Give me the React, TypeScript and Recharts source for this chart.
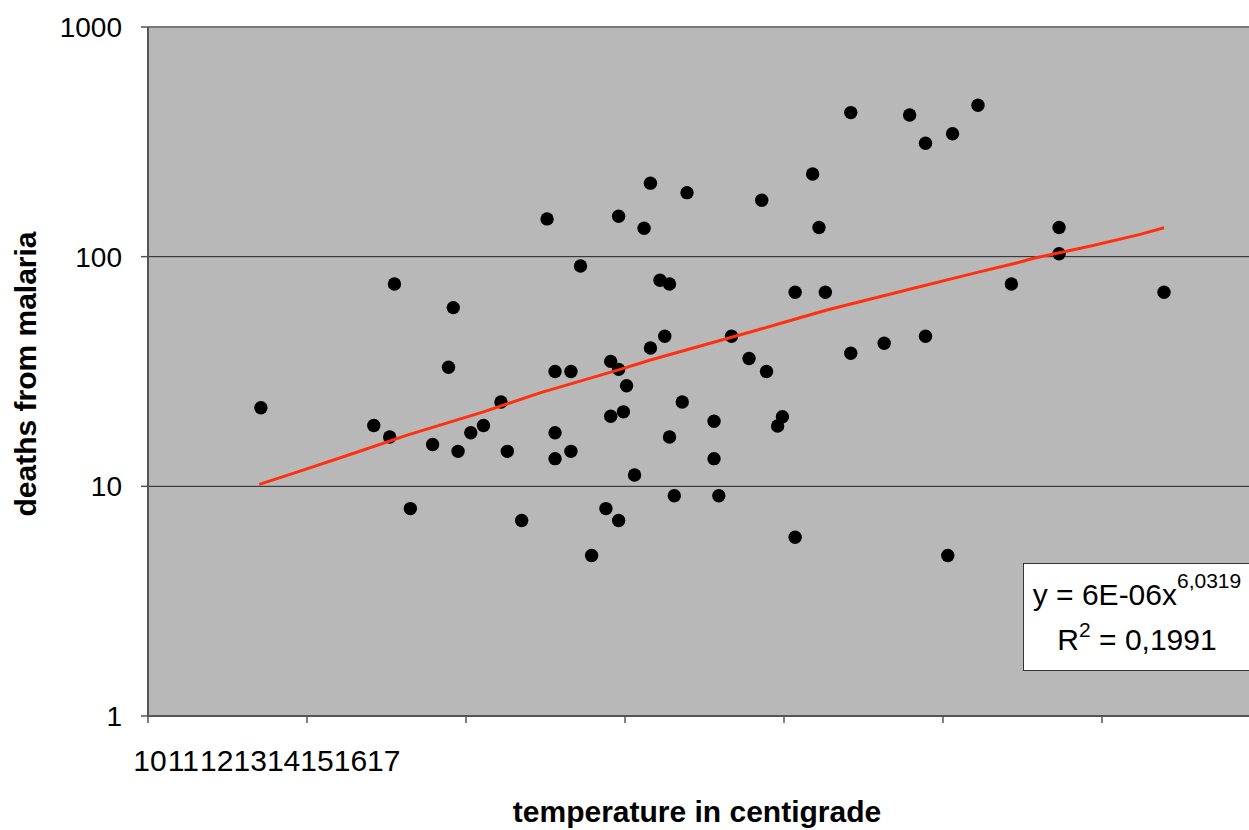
import { ScatterChart, Scatter, XAxis, YAxis, CartesianGrid, ReferenceLine } from "recharts"

// temperature (°C) and deaths per point
const temperature = [
  10.71, 11.42, 11.52, 11.55, 11.65, 11.79, 11.89, 11.92, 11.95, 12.03,
  12.11, 12.22, 12.26, 12.35, 12.51, 12.56, 12.56, 12.56, 12.66, 12.66,
  12.72, 12.79, 12.88, 12.91, 12.91, 12.96, 12.96, 12.96, 12.99, 13.01,
  13.06, 13.12, 13.16, 13.16, 13.22, 13.25, 13.28, 13.28, 13.31, 13.36,
  13.39, 13.56, 13.56, 13.59, 13.67, 13.78, 13.86, 13.89, 13.96, 13.99,
  14.07, 14.07, 14.18, 14.22, 14.26, 14.42, 14.42, 14.63, 14.79, 14.89,
  14.89, 15.03, 15.06, 15.22, 15.43, 15.73, 15.73, 16.39,
]
const deaths = [
  22, 18.4, 16.4, 76, 8, 15.2, 33, 60, 14.2, 17.1,
  18.4, 23.3, 14.2, 7.1, 146, 31.6, 17.1, 13.2, 31.6, 14.2,
  91, 5, 8, 35, 20.2, 150, 7.1, 32.3, 21.1, 27.4,
  11.2, 133, 209, 40, 79, 45, 76, 16.4, 9.1, 23.3,
  190, 19.2, 13.2, 9.1, 45, 36, 176, 31.6, 18.3, 20.1,
  6, 70, 229, 134, 70, 424, 38, 42, 414, 312,
  45, 5, 343, 456, 76, 134, 103, 70,
]

// power trendline, points
const trendTemperature = [
  10.7, 10.98, 11.29, 11.63, 12.11, 12.47, 12.97, 13.16, 13.85, 13.98,
  14.27, 14.79, 15.21, 15.48, 15.57, 15.93, 16.24, 16.39,
]
const trendDeaths = [
  10.2, 11.8, 13.9, 16.7, 21.1, 25.6, 32.3, 35.5, 48.3, 51.3,
  58.6, 72.1, 85.2, 94.5, 98.4, 111.3, 125, 133.6,
]

const xTicks = [10, 11, 12, 13, 14, 15, 16, 17]
const yTicks = [1, 10, 100, 1000]

const points = temperature.map((t, i) => ({ t, d: deaths[i] }))
const trend = trendTemperature.map((t, i) => ({ t, d: trendDeaths[i] }))

const FONT = '"Liberation Sans", Arial, sans-serif'

// Excel squashed the category labels together at the left, so do the same
function XTick(props: any) {
  const { payload, index } = props
  return (
    <text x={150 + 33.4 * index} y={771} textAnchor="middle" fontSize={30} fontFamily={FONT} fill="#000">
      {payload.value}
    </text>
  )
}

function XTitle() {
  return (
    <text x={697} y={822} textAnchor="middle" fontSize={30} fontWeight="bold" fontFamily={FONT} fill="#000">
      temperature in centigrade
    </text>
  )
}

function YTitle() {
  return (
    <text
      x={36}
      y={374}
      transform="rotate(-90, 36, 374)"
      textAnchor="middle"
      fontSize={30}
      fontWeight="bold"
      fontFamily={FONT}
      fill="#000"
    >
      deaths from malaria
    </text>
  )
}

export default function App() {
  return (
    <div style={{ position: "fixed", top: 0, left: 0, width: 1249, height: 830, overflow: "hidden", background: "#fff" }}>
      <ScatterChart width={1270} height={830} margin={{ top: 27, right: 9, bottom: 0, left: 0 }}>
        <CartesianGrid vertical={false} stroke="#222" fill="#b8b8b8" horizontalValues={[10, 100]} />
        <ReferenceLine y={1000} stroke="#7a7a7a" strokeWidth={2} />
        <XAxis
          dataKey="t"
          type="number"
          domain={[10, 17]}
          ticks={xTicks}
          height={114}
          tickSize={7}
          axisLine={{ stroke: "#555", strokeWidth: 2 }}
          tickLine={{ stroke: "#555", strokeWidth: 1.5 }}
          tick={<XTick />}
          label={<XTitle />}
        />
        <YAxis
          dataKey="d"
          type="number"
          scale="log"
          domain={[1, 1000]}
          ticks={yTicks}
          allowDataOverflow
          width={148}
          tickSize={7}
          tickMargin={19}
          axisLine={{ stroke: "#555", strokeWidth: 2 }}
          tickLine={{ stroke: "#555", strokeWidth: 1.5 }}
          tick={{ fontSize: 28, fontFamily: FONT, fill: "#000" }}
          label={<YTitle />}
        />
        <Scatter
          data={points}
          isAnimationActive={false}
          shape={(p: any) => <circle cx={p.cx} cy={p.cy} r={6.7} fill="#000" />}
        />
        <Scatter
          data={trend}
          isAnimationActive={false}
          line={{ stroke: "#ff3010", strokeWidth: 3 }}
          shape={() => <g />}
        />
      </ScatterChart>

      {/* trendline equation box */}
      <div
        style={{
          position: "absolute",
          left: 1023,
          top: 563,
          width: 228,
          height: 108,
          background: "#fff",
          border: "1.5px solid #333",
          fontFamily: FONT,
          fontSize: 30,
          lineHeight: "42px",
          textAlign: "center",
          paddingTop: 10,
          boxSizing: "border-box",
          color: "#000",
          whiteSpace: "nowrap",
        }}
      >
        <div>
          y = 6E-06x<span style={{ fontSize: 21, position: "relative", top: -17 }}>6,0319</span>
        </div>
        <div>
          R<span style={{ fontSize: 21, position: "relative", top: -13 }}>2</span> = 0,1991
        </div>
      </div>
    </div>
  )
}
